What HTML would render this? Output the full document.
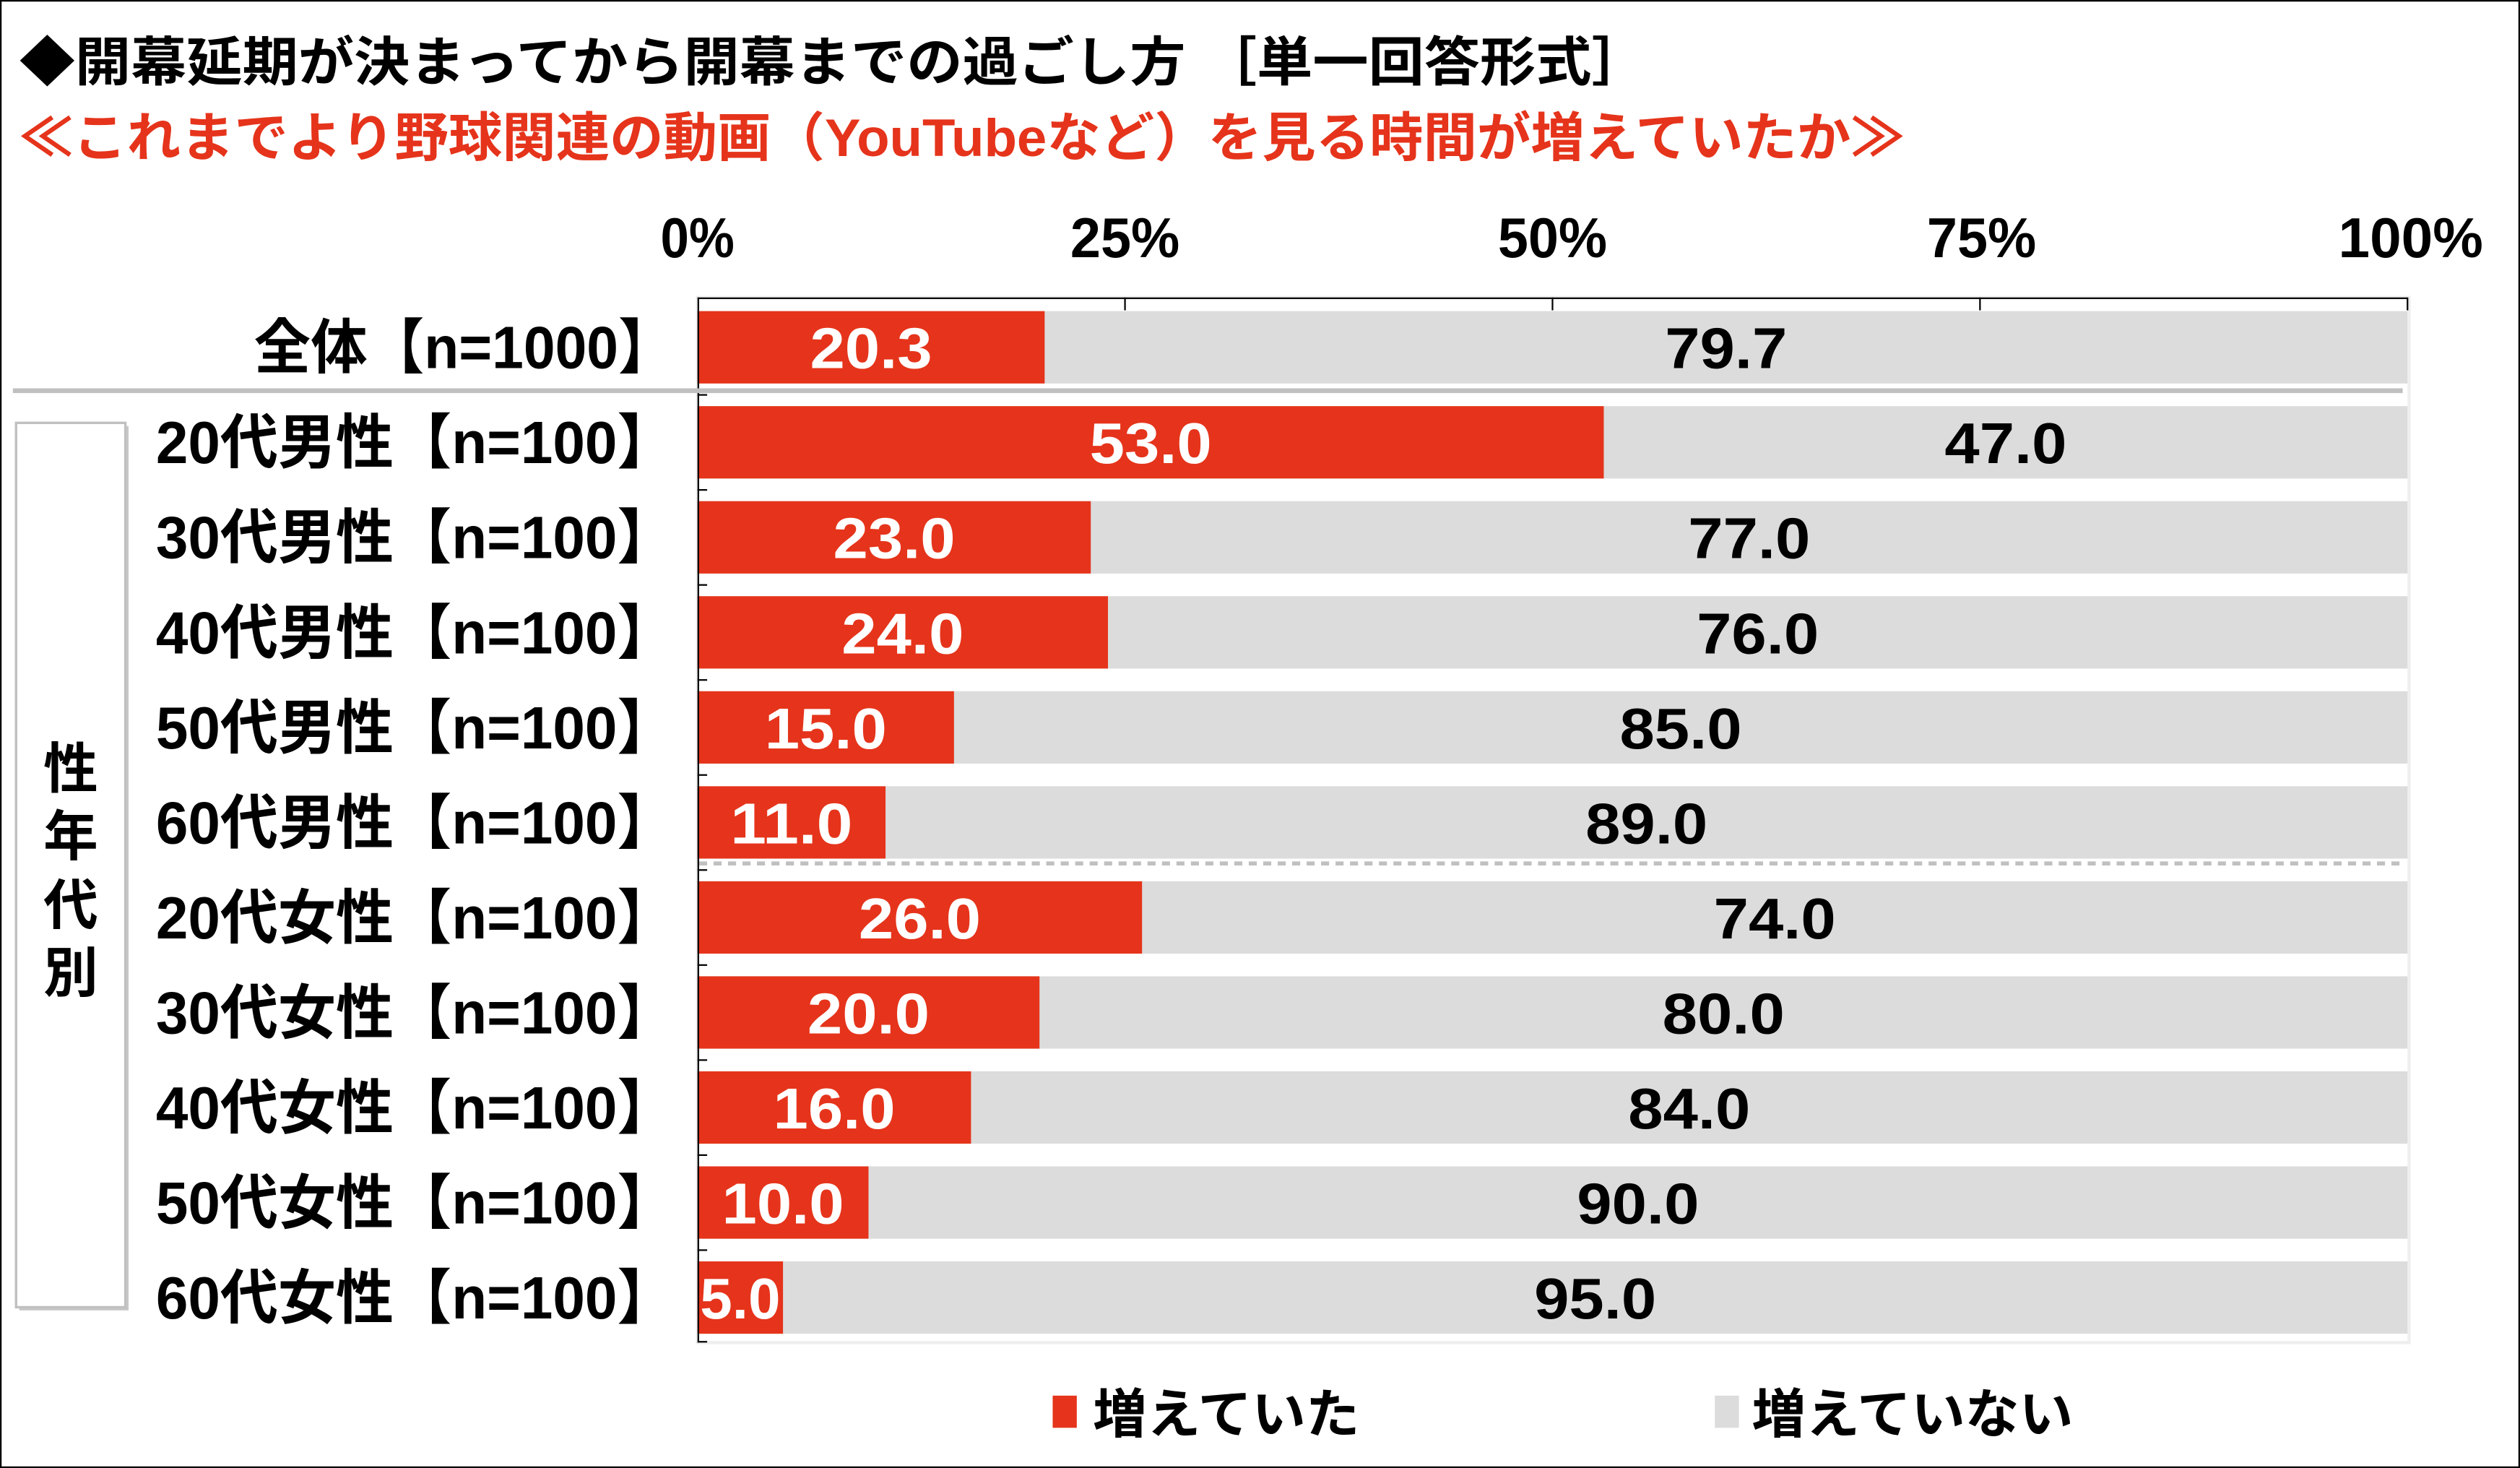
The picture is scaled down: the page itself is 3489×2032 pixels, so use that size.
<!DOCTYPE html>
<html><head><meta charset="utf-8"><style>
html,body{margin:0;padding:0;background:#fff;}
svg{display:block;}
text{font-family:"Liberation Sans","Noto Sans CJK JP",sans-serif;font-weight:bold;}
</style></head><body>
<svg width="3489" height="2032" viewBox="0 0 1568 913" preserveAspectRatio="none" xmlns="http://www.w3.org/2000/svg">
<rect x="0.5" y="0.5" width="1567" height="912" fill="#fff" stroke="#000" stroke-width="1"/>
<text x="12" y="50" font-size="33" fill="#000" textLength="1013" lengthAdjust="spacingAndGlyphs">◆開幕延期が決まってから開幕までの過ごし方 ［単一回答形式］</text>
<text x="12" y="97" font-size="33" fill="#e5341b" textLength="1173" lengthAdjust="spacingAndGlyphs">≪これまでより野球関連の動画（YouTubeなど）を見る時間が増えていたか≫</text>
<g font-size="35" fill="#000" text-anchor="middle">
<text x="434" y="160" textLength="46" lengthAdjust="spacingAndGlyphs">0%</text>
<text x="700" y="160" textLength="68" lengthAdjust="spacingAndGlyphs">25%</text>
<text x="966" y="160" textLength="68" lengthAdjust="spacingAndGlyphs">50%</text>
<text x="1233" y="160" textLength="68" lengthAdjust="spacingAndGlyphs">75%</text>
<text x="1500" y="160" textLength="90" lengthAdjust="spacingAndGlyphs">100%</text>
</g>
<rect x="434" y="185" width="1065" height="650" fill="none" stroke="#eee" stroke-width="2"/>
<line x1="434" y1="185.5" x2="1498" y2="185.5" stroke="#000" stroke-width="1"/>
<g stroke="#000" stroke-width="1">
<line x1="700" y1="185" x2="700" y2="193"/><line x1="966" y1="185" x2="966" y2="193"/><line x1="1232" y1="185" x2="1232" y2="193"/><line x1="1498" y1="185" x2="1498" y2="193"/>
</g>

<g fill="#dcdcdc">
<rect x="434" y="193.5" width="1064" height="45"/>
<rect x="434" y="252.6" width="1064" height="45"/>
<rect x="434" y="311.7" width="1064" height="45"/>
<rect x="434" y="370.8" width="1064" height="45"/>
<rect x="434" y="429.9" width="1064" height="45"/>
<rect x="434" y="489" width="1064" height="45"/>
<rect x="434" y="548.1" width="1064" height="45"/>
<rect x="434" y="607.2" width="1064" height="45"/>
<rect x="434" y="666.3" width="1064" height="45"/>
<rect x="434" y="725.4" width="1064" height="45"/>
<rect x="434" y="784.5" width="1064" height="45"/>
</g>
<g fill="#e5341b">
<rect x="434" y="193.5" width="216" height="45"/>
<rect x="434" y="252.6" width="563.9" height="45"/>
<rect x="434" y="311.7" width="244.7" height="45"/>
<rect x="434" y="370.8" width="255.4" height="45"/>
<rect x="434" y="429.9" width="159.6" height="45"/>
<rect x="434" y="489" width="117" height="45"/>
<rect x="434" y="548.1" width="276.6" height="45"/>
<rect x="434" y="607.2" width="212.8" height="45"/>
<rect x="434" y="666.3" width="170.2" height="45"/>
<rect x="434" y="725.4" width="106.4" height="45"/>
<rect x="434" y="784.5" width="53.2" height="45"/>
</g>
<g stroke="#000" stroke-width="1">
<line x1="434" y1="245.6" x2="440" y2="245.6"/>
<line x1="434" y1="304.7" x2="440" y2="304.7"/>
<line x1="434" y1="363.8" x2="440" y2="363.8"/>
<line x1="434" y1="422.9" x2="440" y2="422.9"/>
<line x1="434" y1="482" x2="440" y2="482"/>
<line x1="434" y1="541.1" x2="440" y2="541.1"/>
<line x1="434" y1="600.2" x2="440" y2="600.2"/>
<line x1="434" y1="659.3" x2="440" y2="659.3"/>
<line x1="434" y1="718.4" x2="440" y2="718.4"/>
<line x1="434" y1="777.5" x2="440" y2="777.5"/>
<line x1="434" y1="834.5" x2="440" y2="834.5"/>
</g>

<g font-size="37" fill="#000" text-anchor="end">
<text x="420" y="229" textLength="262" lengthAdjust="spacingAndGlyphs">全体【n=1000】</text>
<text x="420" y="288.1" textLength="323" lengthAdjust="spacingAndGlyphs">20代男性【n=100】</text>
<text x="420" y="347.2" textLength="323" lengthAdjust="spacingAndGlyphs">30代男性【n=100】</text>
<text x="420" y="406.3" textLength="323" lengthAdjust="spacingAndGlyphs">40代男性【n=100】</text>
<text x="420" y="465.4" textLength="323" lengthAdjust="spacingAndGlyphs">50代男性【n=100】</text>
<text x="420" y="524.5" textLength="323" lengthAdjust="spacingAndGlyphs">60代男性【n=100】</text>
<text x="420" y="583.6" textLength="323" lengthAdjust="spacingAndGlyphs">20代女性【n=100】</text>
<text x="420" y="642.7" textLength="323" lengthAdjust="spacingAndGlyphs">30代女性【n=100】</text>
<text x="420" y="701.8" textLength="323" lengthAdjust="spacingAndGlyphs">40代女性【n=100】</text>
<text x="420" y="760.9" textLength="323" lengthAdjust="spacingAndGlyphs">50代女性【n=100】</text>
<text x="420" y="820" textLength="323" lengthAdjust="spacingAndGlyphs">60代女性【n=100】</text>
</g>
<g font-size="36" fill="#fff" text-anchor="middle">
<text x="542" y="229" textLength="76" lengthAdjust="spacingAndGlyphs">20.3</text>
<text x="716" y="288.1" textLength="76" lengthAdjust="spacingAndGlyphs">53.0</text>
<text x="556.4" y="347.2" textLength="76" lengthAdjust="spacingAndGlyphs">23.0</text>
<text x="561.7" y="406.3" textLength="76" lengthAdjust="spacingAndGlyphs">24.0</text>
<text x="513.8" y="465.4" textLength="76" lengthAdjust="spacingAndGlyphs">15.0</text>
<text x="492.5" y="524.5" textLength="76" lengthAdjust="spacingAndGlyphs">11.0</text>
<text x="572.3" y="583.6" textLength="76" lengthAdjust="spacingAndGlyphs">26.0</text>
<text x="540.4" y="642.7" textLength="76" lengthAdjust="spacingAndGlyphs">20.0</text>
<text x="519.1" y="701.8" textLength="76" lengthAdjust="spacingAndGlyphs">16.0</text>
<text x="487.2" y="760.9" textLength="76" lengthAdjust="spacingAndGlyphs">10.0</text>
<text x="460.6" y="820" textLength="50" lengthAdjust="spacingAndGlyphs">5.0</text>
</g>
<g font-size="36" fill="#000" text-anchor="middle">
<text x="1074" y="229" textLength="76" lengthAdjust="spacingAndGlyphs">79.7</text>
<text x="1248" y="288.1" textLength="76" lengthAdjust="spacingAndGlyphs">47.0</text>
<text x="1088.4" y="347.2" textLength="76" lengthAdjust="spacingAndGlyphs">77.0</text>
<text x="1093.7" y="406.3" textLength="76" lengthAdjust="spacingAndGlyphs">76.0</text>
<text x="1045.8" y="465.4" textLength="76" lengthAdjust="spacingAndGlyphs">85.0</text>
<text x="1024.5" y="524.5" textLength="76" lengthAdjust="spacingAndGlyphs">89.0</text>
<text x="1104.3" y="583.6" textLength="76" lengthAdjust="spacingAndGlyphs">74.0</text>
<text x="1072.4" y="642.7" textLength="76" lengthAdjust="spacingAndGlyphs">80.0</text>
<text x="1051.1" y="701.8" textLength="76" lengthAdjust="spacingAndGlyphs">84.0</text>
<text x="1019.2" y="760.9" textLength="76" lengthAdjust="spacingAndGlyphs">90.0</text>
<text x="992.6" y="820" textLength="76" lengthAdjust="spacingAndGlyphs">95.0</text>
</g>

<line x1="434.5" y1="185" x2="434.5" y2="835" stroke="#000" stroke-width="1"/>
<line x1="8" y1="243" x2="1495" y2="243" stroke="#c0c0c0" stroke-width="3"/>
<line x1="435" y1="537" x2="1495" y2="537" stroke="#c0c0c0" stroke-width="2.5" stroke-dasharray="5,4"/>
<rect x="12" y="265" width="68" height="550" fill="#c8c8c8"/>
<rect x="10" y="263" width="68" height="550" fill="#fff" stroke="#c0c0c0" stroke-width="1.5"/>
<g font-size="34" fill="#000" text-anchor="middle">
<text x="44" y="490">性</text><text x="44" y="532">年</text><text x="44" y="575">代</text><text x="44" y="617">別</text>
</g>
<rect x="655" y="868" width="15" height="20" fill="#e5341b"/>
<text x="680" y="891" font-size="33" fill="#000" textLength="166" lengthAdjust="spacingAndGlyphs">増えていた</text>
<rect x="1067" y="868" width="15" height="20" fill="#dcdcdc"/>
<text x="1090" y="891" font-size="33" fill="#000" textLength="200" lengthAdjust="spacingAndGlyphs">増えていない</text>
</svg>
</body></html>
